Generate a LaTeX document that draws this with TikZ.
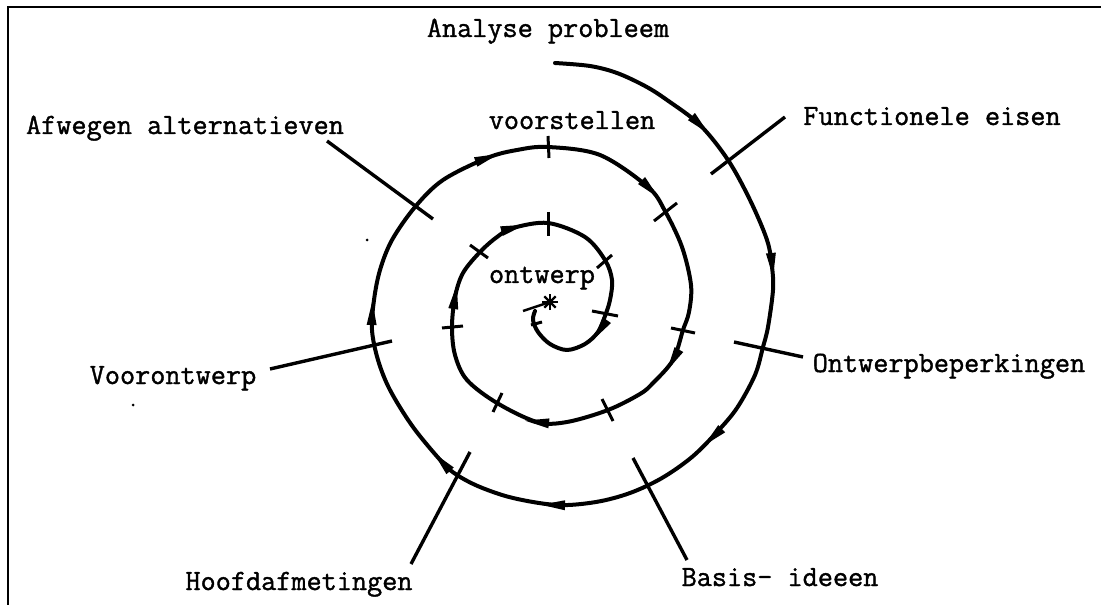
\documentclass[tikz,border=0pt]{standalone}
\usepackage{fontspec}
\usetikzlibrary{calc}
\newfontfamily\typew{Latin Modern Mono}[FakeBold=1.3]
\newcommand\lbfont{\fontsize{29.5}{33}\selectfont\typew}
\newcommand\sparrow[4]{\fill[shift={(#1,#2)}, rotate={atan2(-(#4),#3)}] (12,0) -- (-12,5) -- (-12,-5) -- cycle;}
\tikzset{
  lbl/.style={font=\lbfont, inner sep=0pt, anchor=base},
  spiral/.style={line width=4bp, line cap=round, line join=round},
  pointer/.style={line width=3.4bp},
  tick/.style={line width=3bp},
}
\begin{document}
\begin{tikzpicture}[x=1bp,y=-1bp]
\useasboundingbox (0,0) rectangle (1101,605);
% frame
\draw[line width=2.2bp] (8,605) -- (8,7) -- (1101,7);
% labels
\node[lbl] (analyse) at (548,37) {Analyse probleem};
\node[lbl] (voorst) at (572,129) {voorstellen};
\node[lbl] (func) at (932,125) {Functionele eisen};
\node[lbl] (afw) at (185,134) {Afwegen alternatieven};
\node[lbl] (ontw) at (542,283) {ontwerp};
\node[lbl] (beperk) at (949,372) {Ontwerpbeperkingen};
\node[lbl] (voorontw) at (173,384) {Voorontwerp};
\node[lbl] (hoofd) at (299,590) {Hoofdafmetingen};
\node[lbl] (basis) at (780,586) {Basis- ideeen};
% spiral
\draw[spiral] plot[smooth, tension=0.55] coordinates {
 (555,63) (590,66) (617,73) (645,86) (667,100) (700,125) (728,160) (750,200)
 (767,240) (772,267) (773,290) (768,327) (763,347) (755,375) (737,408) (717,432)
 (692,457) (662,478) (630,493) (596,502) (557,505) (513,498) (480,487) (457,475) (442,462)
 (413,427) (390,390) (378,360) (372,330) (374,300) (380,270) (392,240) (415,207)
 (443,180) (487,158) (517,150) (548,147) (600,155) (648,187) (665,211) (682,247)
 (691,285) (689,312) (683,330) (673,360) (653,383) (640,394) (608,410) (567,422)
 (537,422) (497,403) (467,380) (455,355) (452,327) (455,297) (463,273) (480,252)
 (497,237) (513,228) (548,223) (585,237) (605,260) (612,280) (610,300) (605,316)
 (598,332) (585,344) (567,350) (550,344) (538,332) (533,320) (535,311)};
% arrows
\sparrow{700}{125}{61}{60}
\sparrow{772}{265}{4}{43}
\sparrow{713}{437}{-22}{21}
\sparrow{553}{505}{-94}{-2}
\sparrow{442}{462}{-44}{-48}
\sparrow{372}{313}{2}{-65}
\sparrow{487}{158}{74}{-26}
\sparrow{650}{189}{55}{55}
\sparrow{673}{360}{-30}{53}
\sparrow{537}{422}{-70}{-8}
\sparrow{455}{297}{8}{-54}
\sparrow{513}{228}{51}{-14}
\sparrow{600}{330}{-21}{30}
% ticks
\draw[tick] (548,136) -- (549,158);
\draw[tick] (654,221) -- (677,203);
\draw[tick] (671,328) -- (695,333);
\draw[tick] (602,399) -- (613,421);
\draw[tick] (502,393) -- (493,412);
\draw[tick] (442,328) -- (463,326);
\draw[tick] (470,245) -- (488,258);
\draw[tick] (548,212) -- (548,236);
\draw[tick] (597,268) -- (612,255);
\draw[tick] (592,311) -- (618,316);
\draw[tick] (531,325) -- (542,322);
% centre star
\coordinate (star) at (550,302);
\draw[line width=2.4bp] (523,311) -- (star);
\foreach \a in {0,45,90,135} \draw[line width=2.2bp] ($(star)+(\a:8)$) -- ($(star)+(\a+180:8)$);
% pointer lines
\coordinate (f1) at (785,117); \coordinate (f2) at (711,174);
\coordinate (a1) at (327,141); \coordinate (a2) at (433,219);
\coordinate (v1) at (270,369); \coordinate (v2) at (392,341);
\coordinate (o1) at (734,342); \coordinate (o2) at (803,357);
\coordinate (h1) at (470,452); \coordinate (h2) at (411,564);
\coordinate (b1) at (633,458); \coordinate (b2) at (687,560);
\draw[pointer] (f1) -- (f2);
\draw[pointer] (a1) -- (a2);
\draw[pointer] (v1) -- (v2);
\draw[pointer] (o1) -- (o2);
\draw[pointer] (h1) -- (h2);
\draw[pointer] (b1) -- (b2);
% specks
\fill (367,240) circle (1.5);
\fill (133,405) circle (1.5);
\end{tikzpicture}
\end{document}
